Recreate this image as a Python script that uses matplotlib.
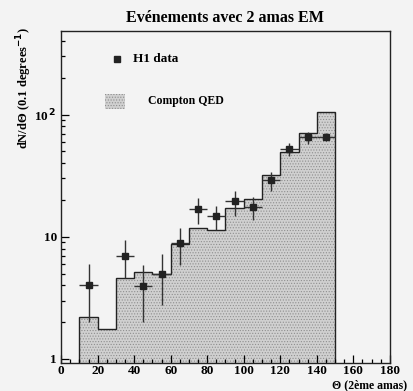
import numpy as np
import matplotlib
matplotlib.use("Agg")
import matplotlib.pyplot as plt
from matplotlib.ticker import MultipleLocator, FixedLocator, NullFormatter
from matplotlib.patches import Rectangle

plt.rcParams["font.family"] = ["Liberation Serif", "DejaVu Serif"]
plt.rcParams["font.weight"] = "bold"
plt.rcParams["hatch.color"] = "#8a8a8a"
plt.rcParams["hatch.linewidth"] = 0.5

# =========================================================
# Data
# =========================================================

bin_edges = [10, 20, 30, 40, 50, 60, 70, 80, 90, 100, 110, 120, 130, 140, 150]
compton_qed = [2.2, 1.76, 4.6, 5.15, 5.0, 8.8, 11.8, 11.4, 17.3, 20.4, 32.0, 49.0, 71.0, 105.0]

theta = [15, 35, 45, 55, 65, 75, 85, 95, 105, 115, 125, 135, 145]
h1_data = [4.0, 6.95, 3.97, 4.94, 8.87, 16.8, 14.7, 19.5, 17.5, 29.2, 52.0, 65.0, 66.0]
err_up = [5.95, 9.5, 5.87, 7.2, 11.8, 20.8, 18.0, 23.5, 21.2, 34.2, 58.4, 72.0, 71.0]
err_down = [2.0, 4.58, 2.0, 2.78, 5.87, 12.8, 11.3, 14.8, 13.7, 23.9, 45.5, 57.0, 61.0]

# =========================================================
# Figure
# =========================================================

fig = plt.figure(figsize=(4.13, 3.91), dpi=100, facecolor="#f3f3f3")
ax = fig.add_axes([0.148, 0.072, 0.796, 0.849])
ax.set_facecolor("#f3f3f3")

# Compton QED histogram
ax.stairs(compton_qed, bin_edges, fill=True, facecolor="#d0d0d0",
          edgecolor="#8f8f8f", hatch="......", linewidth=0, baseline=0.01)
ax.stairs(compton_qed, bin_edges, color="#222222", linewidth=1.0, baseline=0.01)

# H1 data
x = np.array(theta)
y = np.array(h1_data)
yerr = [y - np.array(err_down), np.array(err_up) - y]
ax.errorbar(x, y, xerr=5, yerr=yerr, fmt="s", color="#333333",
            markerfacecolor="#222222", markeredgecolor="#222222",
            markersize=5, elinewidth=1.0, capsize=0)

ax.set_yscale("log")
ax.set_xlim(0, 180)
ax.set_ylim(0.93, 484)

ax.xaxis.set_major_locator(MultipleLocator(20))
ax.xaxis.set_minor_locator(MultipleLocator(5))
ax.yaxis.set_major_locator(FixedLocator([1, 10, 100]))
ax.set_yticklabels(["1", "10", "10$^{\\,2}$"])
ax.yaxis.set_minor_formatter(NullFormatter())

ax.tick_params(axis="both", which="both", direction="in", top=False, right=False,
               labelsize=9.5, width=0.9)
ax.tick_params(axis="both", which="major", length=6, pad=3)
ax.tick_params(axis="x", which="major", pad=1.5)
ax.tick_params(axis="both", which="minor", length=3)
for lab in ax.get_xticklabels() + ax.get_yticklabels():
    lab.set_fontweight("bold")

for sp in ax.spines.values():
    sp.set_linewidth(1.0)
    sp.set_color("#222222")

# Title and axis labels
fig.text(0.545, 0.955, "Evénements avec 2 amas EM", ha="center", va="center",
         fontsize=11.5, fontweight="bold")
fig.text(0.058, 0.775, "dN/d\u0398 (0.1 degrees$^{-1}$)", rotation=90,
         ha="center", va="center", fontsize=9, fontweight="bold")
fig.text(0.985, 0.0, "\u0398 (2ème amas)", ha="right", va="bottom",
         fontsize=8.5, fontweight="bold")

# Legend drawn inside the axes
ax.plot([30.6], [287], "s", color="#222222", markersize=5)
ax.text(39.5, 287, "H1 data", va="center", ha="left", fontsize=9.5, fontweight="bold")
ax.add_patch(Rectangle((24, 112), 11, 36, facecolor="#d0d0d0", edgecolor="#8f8f8f",
                       hatch="......", linewidth=0))
ax.text(47.5, 130, "Compton QED", va="center", ha="left", fontsize=8.5, fontweight="bold")

plt.savefig("out.png", dpi=100, facecolor=fig.get_facecolor())
